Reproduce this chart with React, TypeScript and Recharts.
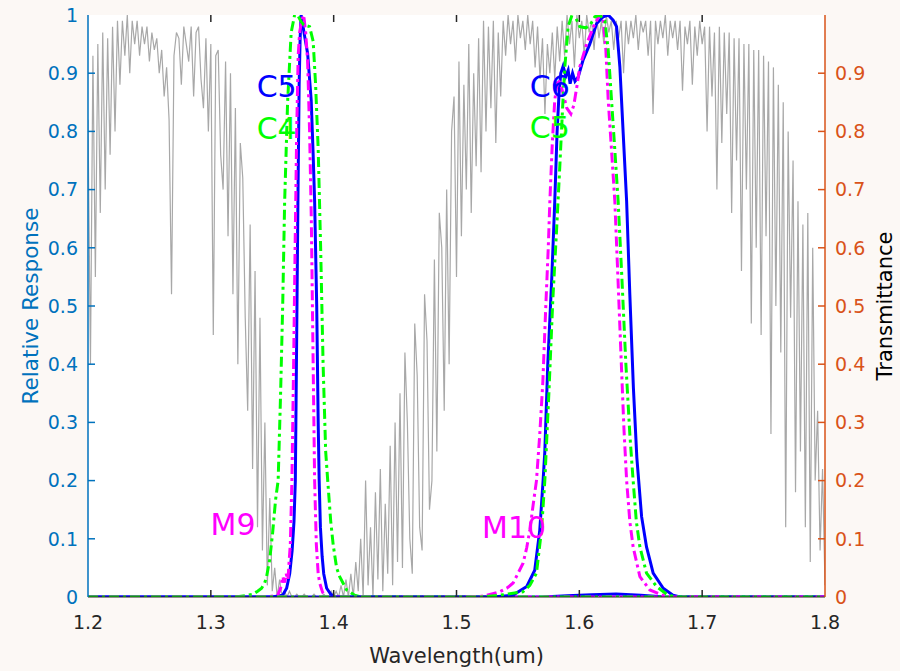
import { ComposedChart, Line, Scatter, XAxis, YAxis } from "recharts";

const wavelengthTicks = [1.2, 1.3, 1.4, 1.5, 1.6, 1.7, 1.8];
const responseTicks = [0, 0.1, 0.2, 0.3, 0.4, 0.5, 0.6, 0.7, 0.8, 0.9, 1];
const transTicks = [0, 0.1, 0.2, 0.3, 0.4, 0.5, 0.6, 0.7, 0.8, 0.9];

// atmospheric transmittance, one sample every 0.002 um starting at 1.2 um
const transStart = 1.2;
const transStep = 0.002;
const transmittance = [
  // 1.200 - 1.222
  0.82, 0.4, 0.93, 0.55, 0.95, 0.66, 0.97, 0.7, 0.96, 0.76, 0.98, 0.8,
  // 1.224 - 1.256
  0.99, 0.88, 0.99, 0.93, 1.0, 0.9, 0.99, 0.95, 0.99, 0.93, 0.98, 0.95, 0.98, 0.92, 0.97, 0.94, 0.96,
  // 1.258 - 1.268
  0.9, 0.94, 0.86, 0.91, 0.82, 0.52,
  // 1.270 - 1.296
  0.93, 0.97, 0.96, 0.88, 0.98, 0.95, 0.92, 0.98, 0.86, 0.97, 0.98, 0.89, 0.84, 0.96,
  // 1.298 - 1.316
  0.8, 0.95, 0.45, 0.93, 0.94, 0.76, 0.7, 0.92, 0.62, 0.9,
  // 1.318 - 1.332
  0.52, 0.84, 0.4, 0.78, 0.72, 0.48, 0.32, 0.64,
  // 1.334 - 1.350
  0.22, 0.56, 0.12, 0.48, 0.08, 0.3, 0.02, 0.17, 0.01,
  // 1.352 - 1.412
  0.05, 0, 0.03, 0, 0.01, 0, 0.01, 0, 0, 0.005, 0, 0, 0.005, 0, 0, 0,
  0.005, 0, 0, 0, 0.005, 0, 0, 0.01, 0, 0.01, 0, 0.02, 0, 0.03, 0,
  // 1.414 - 1.450
  0.04, 0, 0.06, 0.01, 0.1, 0, 0.2, 0.02, 0.12, 0, 0.18, 0.03, 0.22, 0.01, 0.16, 0.04, 0.26, 0.02, 0.3,
  // 1.452 - 1.480
  0.06, 0.35, 0.05, 0.42, 0.3, 0.1, 0.04, 0.47, 0.38, 0.12, 0.08, 0.52, 0.44, 0.15, 0.2,
  // 1.482 - 1.500
  0.58, 0.25, 0.66, 0.6, 0.32, 0.7, 0.4, 0.8, 0.86, 0.55,
  // 1.502 - 1.518
  0.92, 0.62, 0.88, 0.7, 0.95, 0.66, 0.9, 0.74, 0.96,
  // 1.520 - 1.536
  0.73, 0.99, 0.8, 0.98, 0.84, 0.99, 0.78, 0.97, 0.86,
  // 1.538 - 1.566
  0.99, 0.93, 1.0, 0.95, 0.99, 0.92, 1.0, 0.96, 0.99, 0.94, 1.0, 0.95, 0.99, 0.91, 0.98,
  // 1.568 - 1.584
  0.89, 0.96, 0.83, 0.95, 0.9, 0.97, 0.89, 0.98, 0.92,
  // 1.586 - 1.700
  0.99, 0.93, 1.0, 0.95, 0.99, 0.91, 1.0, 0.96, 0.99, 0.93,
  1.0, 0.97, 0.99, 0.94, 1.0, 0.96, 0.99, 0.95, 1.0, 0.97,
  0.99, 0.94, 0.99, 0.96, 0.99, 0.9, 0.99, 0.95, 0.99, 0.96,
  1.0, 0.94, 0.99, 0.97, 0.99, 0.93, 0.99, 0.83, 0.99, 0.95,
  0.99, 0.96, 1.0, 0.93, 0.99, 0.96, 0.99, 0.94, 0.99, 0.87,
  0.98, 0.95, 0.99, 0.88, 0.98, 0.93, 0.99, 0.95,
  // 1.702 - 1.720
  0.98, 0.8, 0.98, 0.86, 0.97, 0.7, 0.98, 0.78, 0.97, 0.83,
  // 1.722 - 1.740
  0.97, 0.66, 0.96, 0.75, 0.96, 0.56, 0.95, 0.7, 0.95, 0.47,
  // 1.742 - 1.760
  0.94, 0.6, 0.94, 0.45, 0.93, 0.62, 0.92, 0.28, 0.91, 0.5,
  // 1.762 - 1.774
  0.88, 0.42, 0.85, 0.12, 0.8, 0.48, 0.75,
  // 1.776 - 1.790
  0.18, 0.68, 0.25, 0.64, 0.12, 0.66, 0.06, 0.6,
  // 1.792 - 1.800
  0.2, 0.32, 0.08, 0.22, 0.02,
];

// relative spectral responses: [wavelength (um), response]
const c5Band1 = [
  [1.2, 0], [1.35, 0], [1.3585, 0.003], [1.3617, 0.015], [1.3642, 0.04], [1.3662, 0.08],
  [1.3677, 0.13], [1.3688, 0.2], [1.3699, 0.45], [1.3709, 0.68], [1.3719, 0.88], [1.3727, 0.96],
  [1.3735, 1.0], [1.3747, 0.985], [1.3764, 0.963], [1.3788, 0.934], [1.3817, 0.854], [1.3833, 0.76],
  [1.3845, 0.68], [1.3862, 0.5], [1.3874, 0.3], [1.3882, 0.2], [1.3892, 0.12], [1.3906, 0.07],
  [1.3919, 0.04], [1.3943, 0.015], [1.3976, 0.005], [1.4008, 0], [1.57, 0], [1.59, 0.002],
  [1.61, 0.004], [1.63, 0.005], [1.65, 0.003], [1.67, 0], [1.8, 0],
];
const m9Band1 = [
  [1.2, 0], [1.345, 0], [1.3544, 0.003], [1.3568, 0.015], [1.3585, 0.035], [1.3601, 0.025],
  [1.3613, 0.04], [1.3628, 0.03], [1.3637, 0.06], [1.3647, 0.09], [1.366, 0.2], [1.3674, 0.4],
  [1.3686, 0.6], [1.3699, 0.8], [1.3711, 0.93], [1.3723, 0.97], [1.3739, 0.99], [1.3756, 1.0],
  [1.3772, 0.97], [1.3788, 0.92], [1.3804, 0.8], [1.3818, 0.65], [1.3833, 0.4], [1.3845, 0.2],
  [1.3859, 0.09], [1.3874, 0.04], [1.3886, 0.024], [1.391, 0.008], [1.3943, 0], [1.8, 0],
];
const c4Band1 = [
  [1.2, 0], [1.32, 0], [1.3299, 0.003], [1.3343, 0.005], [1.3381, 0.01], [1.3413, 0.015],
  [1.3438, 0.024], [1.3454, 0.035], [1.3479, 0.064], [1.3503, 0.11], [1.3527, 0.167], [1.3548, 0.2],
  [1.3568, 0.35], [1.3585, 0.5], [1.3601, 0.68], [1.3625, 0.85], [1.3654, 0.97], [1.3682, 1.0],
  [1.3707, 1.0], [1.3731, 0.99], [1.3756, 0.983], [1.3804, 0.98], [1.3833, 0.955], [1.3853, 0.88],
  [1.3874, 0.77], [1.3894, 0.6], [1.3914, 0.4], [1.3935, 0.25], [1.3955, 0.19], [1.3976, 0.13],
  [1.3996, 0.09], [1.4024, 0.05], [1.4049, 0.035], [1.4106, 0.012], [1.4171, 0.003], [1.4228, 0],
  [1.8, 0],
];
const c6Band2 = [
  [1.2, 0], [1.53, 0], [1.5458, 0.003], [1.5572, 0.018], [1.5637, 0.046], [1.5678, 0.115],
  [1.5705, 0.2], [1.5719, 0.25], [1.5743, 0.4], [1.5776, 0.55], [1.58, 0.68], [1.5819, 0.8],
  [1.5835, 0.866], [1.5849, 0.9], [1.5868, 0.912], [1.589, 0.895], [1.5909, 0.905], [1.5925, 0.882],
  [1.5945, 0.9], [1.5965, 0.886], [1.599, 0.893], [1.6031, 0.923], [1.6085, 0.95], [1.614, 0.985],
  [1.6194, 0.997], [1.6235, 1.0], [1.6275, 0.991], [1.6303, 0.98], [1.633, 0.911], [1.6357, 0.797],
  [1.6385, 0.68], [1.6411, 0.52], [1.644, 0.36], [1.6468, 0.24], [1.6507, 0.138], [1.6547, 0.086],
  [1.6574, 0.064], [1.6601, 0.041], [1.6683, 0.015], [1.6762, 0.003], [1.6819, 0], [1.8, 0],
];
const m10Band2 = [
  [1.2, 0], [1.505, 0], [1.5189, 0.001], [1.5246, 0.003], [1.5352, 0.009], [1.5409, 0.015],
  [1.5461, 0.024], [1.5499, 0.04], [1.5542, 0.058], [1.5572, 0.085], [1.5597, 0.115], [1.5625, 0.16],
  [1.5651, 0.2], [1.5678, 0.28], [1.5703, 0.37], [1.5727, 0.5], [1.5747, 0.6], [1.576, 0.68],
  [1.578, 0.78], [1.58, 0.854], [1.5825, 0.89], [1.5849, 0.88], [1.5874, 0.86], [1.5898, 0.84],
  [1.5931, 0.83], [1.5955, 0.845], [1.598, 0.877], [1.6004, 0.911], [1.6059, 0.95], [1.6126, 0.985],
  [1.6167, 1.0], [1.6194, 0.997], [1.6216, 0.94], [1.6235, 0.854], [1.6262, 0.768], [1.6289, 0.68],
  [1.6314, 0.55], [1.6342, 0.4], [1.6363, 0.29], [1.6385, 0.2], [1.6411, 0.13], [1.6438, 0.086],
  [1.6493, 0.035], [1.6574, 0.012], [1.668, 0.003], [1.6754, 0], [1.8, 0],
];
const c5Band2 = [
  [1.2, 0], [1.52, 0], [1.5352, 0.003], [1.554, 0.009], [1.5597, 0.02], [1.5651, 0.041],
  [1.5692, 0.115], [1.5719, 0.2], [1.5752, 0.35], [1.5784, 0.51], [1.5817, 0.64], [1.5841, 0.74],
  [1.5866, 0.85], [1.5882, 0.911], [1.5909, 0.98], [1.5936, 0.997], [1.5971, 0.995], [1.6004, 0.98],
  [1.6053, 0.978], [1.6085, 0.982], [1.6126, 0.997], [1.6167, 1.0], [1.6208, 0.99], [1.6235, 0.94],
  [1.6262, 0.854], [1.6289, 0.768], [1.6316, 0.68], [1.6346, 0.55], [1.6379, 0.4], [1.6411, 0.28],
  [1.6438, 0.2], [1.6464, 0.13], [1.6493, 0.086], [1.6547, 0.041], [1.6629, 0.018], [1.671, 0.005],
  [1.6778, 0], [1.8, 0],
];

// band name annotations (left edge wavelength, baseline response)
const bandNames = ["C5", "C4", "M9", "C6", "C5", "M10"];
const bandNameW = [1.3373, 1.3373, 1.2998, 1.5597, 1.5597, 1.5208];
const bandNameV = [0.859, 0.787, 0.1065, 0.859, 0.788, 0.1008];
const bandNameKind = ["C", "C4", "M", "C", "C4", "M"];

const BLUE = "#0000ff";
const GREEN = "#00ff00";
const MAGENTA = "#ff00ff";
const LEFT_AXIS = "#0072BD";
const RIGHT_AXIS = "#D95319";
const DARK = "#262626";
const FONT = "'DejaVu Sans', Verdana, sans-serif";
const kindColor = { C: BLUE, C4: GREEN, M: MAGENTA };
const TICK_LEN = 7;
const TICK_W = 1.5;
const TICK_GAP = 10;
const MARGIN = { top: 15, right: 15, bottom: 34, left: 28 };
const AXIS_W = 60;
const XAXIS_H = 40;

const toPoints = (pairs) => pairs.map(([w, v]) => ({ w, v }));

const NameText = (props) => {
  const { cx, cy, payload } = props;
  if (cx == null || cy == null) return null;
  return (
    <text x={cx} y={cy} fill={payload.color} fontSize={30} fontFamily={FONT}>
      {payload.text}
    </text>
  );
};

// MATLAB-style inward tick marks, drawn at each tick position
const markShape = (dx, dy, color) => (props) => {
  const { cx, cy } = props;
  if (cx == null || cy == null) return null;
  return (
    <path d={`M${cx},${cy}L${cx + dx},${cy + dy}`} stroke={color} strokeWidth={TICK_W} fill="none" />
  );
};
const bottomMark = markShape(0, -TICK_LEN, DARK);
const topMark = markShape(0, TICK_LEN, DARK);
const leftMark = markShape(TICK_LEN, 0, LEFT_AXIS);
const rightMark = markShape(-TICK_LEN, 0, RIGHT_AXIS);

const BottomTick = ({ x, y, payload }) => (
  <text x={x} y={y} dy="0.71em" textAnchor="middle" fill={DARK} fontSize={19} fontFamily={FONT}>
    {payload.value.toFixed(1)}
  </text>
);
const LeftTick = ({ x, y, payload }) => (
  <text x={x} y={y} dy="0.355em" textAnchor="end" fill={LEFT_AXIS} fontSize={19} fontFamily={FONT}>
    {String(payload.value)}
  </text>
);
const RightTick = ({ x, y, payload }) => (
  <text x={x} y={y} dy="0.355em" textAnchor="start" fill={RIGHT_AXIS} fontSize={19} fontFamily={FONT}>
    {String(payload.value)}
  </text>
);

export default function App() {
  const transData = transmittance.map((t, i) => ({ w: +(transStart + i * transStep).toFixed(3), t }));
  const nameData = bandNames.map((text, i) => ({
    w: bandNameW[i],
    v: bandNameV[i],
    text,
    color: kindColor[bandNameKind[i]],
  }));
  const xMin = wavelengthTicks[0];
  const xMax = wavelengthTicks[wavelengthTicks.length - 1];
  const bottomMarks = wavelengthTicks.slice(1, -1).map((w) => ({ w, v: 0 }));
  const topMarks = wavelengthTicks.slice(1, -1).map((w) => ({ w, v: 1 }));
  const leftMarks = responseTicks.slice(1, -1).map((v) => ({ w: xMin, v }));
  const rightMarks = transTicks.slice(1).map((v) => ({ w: xMax, v }));

  const series = [
    { data: c5Band1, color: BLUE, dash: undefined },
    { data: m9Band1, color: MAGENTA, dash: "10 4 3 4" },
    { data: c4Band1, color: GREEN, dash: "10 4 3 4" },
    { data: c6Band2, color: BLUE, dash: undefined },
    { data: m10Band2, color: MAGENTA, dash: "10 4 3 4" },
    { data: c5Band2, color: GREEN, dash: "10 4 3 4" },
  ];

  const W = 900;
  const H = 671;
  const plotLeft = MARGIN.left + AXIS_W;
  const plotTop = MARGIN.top;
  const plotW = W - MARGIN.left - MARGIN.right - 2 * AXIS_W;
  const plotH = H - MARGIN.top - MARGIN.bottom - XAXIS_H;

  return (
    <div style={{ position: "fixed", left: 0, top: 0, width: W, height: H, background: "#fcf8f5" }}>
      <div
        style={{ position: "absolute", left: plotLeft, top: plotTop, width: plotW, height: plotH, background: "#ffffff" }}
      />
      <div style={{ position: "absolute", left: 0, top: 0 }}>
        <ComposedChart width={W} height={H} margin={MARGIN}>
          <XAxis
            xAxisId={0}
            dataKey="w"
            type="number"
            domain={[xMin, xMax]}
            ticks={wavelengthTicks}
            allowDataOverflow
            height={XAXIS_H}
            tickSize={0}
            tickMargin={19}
            tickLine={false}
            axisLine={{ stroke: DARK }}
            tick={BottomTick}
            label={{
              content: (p) => {
                const vb = p.viewBox || { x: 88, y: 597, width: 737 };
                return (
                  <text x={vb.x + vb.width / 2} y={vb.y + 59} textAnchor="middle" dominantBaseline="central"
                    fill={DARK} fontSize={21} fontFamily={FONT}>
                    Wavelength(um)
                  </text>
                );
              },
            }}
          />
          <XAxis
            xAxisId="top"
            orientation="top"
            dataKey="w"
            type="number"
            domain={[xMin, xMax]}
            ticks={wavelengthTicks}
            allowDataOverflow
            height={0}
            tick={false}
            tickLine={false}
            axisLine={{ stroke: DARK, strokeWidth: 1.5 }}
          />
          <YAxis
            yAxisId="left"
            orientation="left"
            type="number"
            domain={[0, 1]}
            ticks={responseTicks}
            allowDataOverflow
            width={AXIS_W}
            tickSize={0}
            tickMargin={TICK_GAP}
            tickLine={false}
            axisLine={{ stroke: LEFT_AXIS, strokeWidth: 1.5 }}
            tick={LeftTick}
            label={{
              content: (p) => {
                const vb = p.viewBox || { x: 28, y: 15, height: 582 };
                const x = vb.x + 2;
                const y = vb.y + vb.height / 2;
                return (
                  <text x={x} y={y} transform={`rotate(-90, ${x}, ${y})`} textAnchor="middle"
                    dominantBaseline="central" fill={LEFT_AXIS} fontSize={21.5} fontFamily={FONT}>
                    Relative Response
                  </text>
                );
              },
            }}
          />
          <YAxis
            yAxisId="right"
            orientation="right"
            type="number"
            domain={[0, 1]}
            ticks={transTicks}
            allowDataOverflow
            width={AXIS_W}
            tickSize={0}
            tickMargin={TICK_GAP}
            tickLine={false}
            axisLine={{ stroke: RIGHT_AXIS, strokeWidth: 1.5 }}
            tick={RightTick}
            label={{
              content: (p) => {
                const vb = p.viewBox || { x: 825, y: 15, width: 60, height: 582 };
                const x = vb.x + vb.width;
                const y = vb.y + vb.height / 2;
                return (
                  <text x={x} y={y} transform={`rotate(-90, ${x}, ${y})`} textAnchor="middle"
                    dominantBaseline="central" fill="#000000" fontSize={21} fontFamily={FONT}>
                    Transmittance
                  </text>
                );
              },
            }}
          />
          <Line
            xAxisId={0}
            yAxisId="right"
            data={transData}
            dataKey="t"
            type="linear"
            stroke="#a8a8a8"
            strokeWidth={1.2}
            dot={false}
            activeDot={false}
            isAnimationActive={false}
          />
          {series.map((s, i) => (
            <Line
              key={i}
              xAxisId={0}
              yAxisId="left"
              data={toPoints(s.data)}
              dataKey="v"
              type="linear"
              stroke={s.color}
              strokeWidth={3}
              strokeDasharray={s.dash}
              dot={false}
              activeDot={false}
              isAnimationActive={false}
            />
          ))}
          <Scatter xAxisId={0} yAxisId="left" data={bottomMarks} dataKey="v" shape={bottomMark} isAnimationActive={false} />
          <Scatter xAxisId={0} yAxisId="left" data={topMarks} dataKey="v" shape={topMark} isAnimationActive={false} />
          <Scatter xAxisId={0} yAxisId="left" data={leftMarks} dataKey="v" shape={leftMark} isAnimationActive={false} />
          <Scatter xAxisId={0} yAxisId="right" data={rightMarks} dataKey="v" shape={rightMark} isAnimationActive={false} />
          <Scatter
            xAxisId={0}
            yAxisId="left"
            data={nameData}
            dataKey="v"
            shape={NameText}
            isAnimationActive={false}
          />
        </ComposedChart>
      </div>
    </div>
  );
}
